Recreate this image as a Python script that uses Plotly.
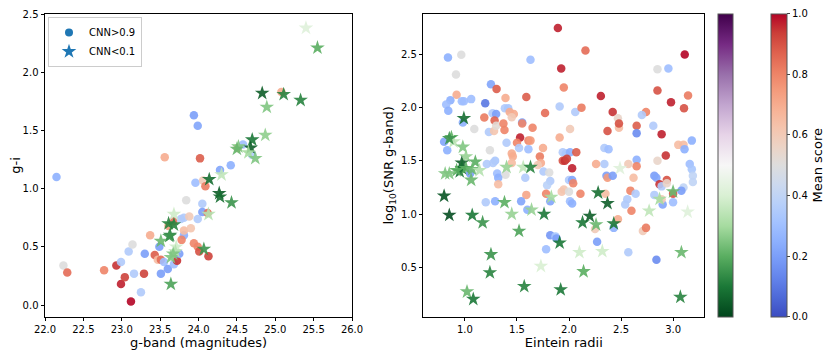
import plotly.graph_objects as go

# ---- left panel: g-band magnitude vs g-i ----
# CNN>0.9 (circles): x, y, mean score
lx_c = [22.15, 22.24, 22.29, 22.77, 22.93, 22.99, 22.99, 23.04, 23.09, 23.12, 23.14, 23.16, 23.25,
        23.29, 23.30, 23.37, 23.43, 23.49, 23.47, 23.51, 23.51, 23.55, 23.56, 23.60, 23.68, 23.67,
        23.61, 23.72, 23.75, 23.77, 23.81, 23.78, 23.81, 23.81, 23.84, 23.88, 23.90, 23.94, 23.94,
        23.96, 23.99, 23.99, 23.99, 24.01, 24.02, 24.05, 24.05, 24.06, 24.09, 24.13, 24.28, 24.42,
        24.51, 24.58, 24.70, 25.08, 24.12]
ly_c = [1.10, 0.34, 0.28, 0.30, 0.34, 0.18, 0.37, 0.24, 0.46, 0.03, 0.52, 0.27, 0.11,
        0.27, 0.44, 0.60, 0.43, 0.50, 0.39, 0.27, 0.39, 0.37, 1.27, 0.31, 0.35, 0.72,
        0.68, 0.38, 0.44, 0.74, 0.60, 0.56, 0.64, 0.75, 0.90, 0.76, 0.66, 1.63, 0.53,
        1.05, 1.54, 0.50, 0.74, 0.46, 1.26, 0.87, 0.80, 1.07, 1.02, 0.42, 1.16, 1.20,
        1.35, 1.38, 1.29, 1.83, 0.79]
ls_c = [0.25, 0.50, 0.85, 0.80, 0.95, 0.97, 0.35, 0.93, 0.35, 1.00, 0.50, 0.35, 0.35,
        0.93, 0.20, 0.70, 0.88, 0.20, 0.65, 0.20, 0.85, 0.30, 0.70, 0.20, 0.30, 0.85,
        0.75, 0.95, 0.20, 0.35, 0.25, 0.80, 0.65, 0.35, 0.50, 0.60, 0.62, 0.20, 0.80,
        0.30, 0.22, 0.80, 0.35, 0.90, 0.88, 0.35, 0.20, 0.60, 0.82, 0.93, 0.22, 0.25,
        0.70, 0.30, 0.35, 0.70, 0.85]
# CNN<0.1 (stars)
lx_s = [25.40, 25.55, 24.83, 25.11, 25.33, 24.89, 24.87, 24.70, 24.68, 24.52, 24.50, 24.65, 24.74,
        24.30, 24.14, 24.27, 24.28, 24.43, 24.13, 23.68, 23.61, 23.68, 23.63, 23.51, 23.71, 23.70,
        23.67, 23.64, 24.07, 23.64, 23.62]
ly_s = [2.38, 2.21, 1.82, 1.81, 1.76, 1.70, 1.46, 1.42, 1.35, 1.36, 1.34, 1.31, 1.26,
        1.12, 1.08, 0.96, 0.93, 0.88, 0.78, 0.78, 0.70, 0.69, 0.60, 0.55, 0.50, 0.46,
        0.44, 0.41, 0.48, 0.18, 0.59]
ls_s = [0.42, 0.20, 0.05, 0.12, 0.12, 0.25, 0.27, 0.10, 0.05, 0.25, 0.22, 0.30, 0.25,
        0.35, 0.08, 0.05, 0.08, 0.15, 0.33, 0.38, 0.12, 0.12, 0.12, 0.22, 0.38, 0.33,
        0.25, 0.25, 0.15, 0.18, 0.15]

# ---- right panel: Einstein radius vs log10(SNR) ----
rx_c = [1.893, 2.158, 0.837, 0.965, 1.630, 3.112, 0.914, 1.925, 2.85, 2.955, 1.25, 1.304, 1.95, 2.306,
        2.85, 3.144, 0.92, 0.86, 0.82, 0.84, 0.97, 0.99, 1.06, 1.195, 1.39, 1.59, 1.91, 2.06, 2.12,
        2.42, 2.74, 2.98, 3.105, 1.384, 1.416, 1.266, 1.30, 1.186, 1.43, 1.47, 1.45, 1.77, 1.285,
        0.98, 1.09, 1.23, 1.28, 1.30, 1.37, 1.38, 1.55, 1.55, 1.65, 1.91, 2.01, 2.37, 2.47, 2.48,
        2.48, 2.65, 2.65, 2.70, 2.81, 2.89, 3.18, 1.53, 0.80, 1.40, 1.50, 1.61, 1.63, 1.24, 1.52,
        1.75, 0.83, 1.45, 1.46, 1.94, 1.97, 2.01, 2.07, 1.94, 1.96, 1.98, 2.03, 2.34, 2.38, 3.05,
        3.10, 3.11, 2.93, 1.72, 1.73, 1.70, 1.45, 1.29, 1.27, 1.21, 2.34, 2.26, 2.57, 2.65, 2.65,
        2.85, 3.16, 3.18, 3.19, 3.19, 3.10, 3.08, 1.755, 1.81, 1.82, 1.79, 1.31, 1.39, 1.32, 1.32,
        1.05, 1.58, 1.61, 2.00, 2.03, 2.04, 2.36, 2.37, 2.42, 2.62, 2.82, 2.84, 2.87, 2.94, 2.89,
        2.94, 3.00, 1.93, 1.95, 2.00, 2.11, 1.78, 1.59, 2.59, 2.64, 2.35, 2.82, 2.56, 2.54, 1.20,
        1.29, 1.54, 1.82, 2.01, 2.03, 2.90, 3.00, 2.89, 1.60, 2.60, 2.47, 2.25, 2.71, 2.74, 1.82,
        1.87, 1.88, 2.27, 1.78, 2.57, 2.84, 2.43]
ry_c = [2.748, 2.537, 2.472, 2.497, 2.450, 2.50, 2.311, 2.367, 2.36, 2.367, 2.22, 2.175, 2.19, 2.109,
        2.16, 2.115, 2.12, 2.07, 2.03, 1.97, 2.06, 2.06, 2.08, 2.041, 2.09, 2.10, 2.01, 1.96, 2.00,
        1.96, 1.96, 2.05, 1.995, 1.995, 1.995, 1.948, 1.94, 1.908, 1.96, 1.94, 1.91, 1.95, 1.88,
        1.86, 1.80, 1.77, 1.78, 1.83, 1.85, 1.79, 1.86, 1.85, 1.81, 1.72, 1.80, 1.78, 1.90, 1.81,
        1.85, 1.83, 1.76, 1.93, 1.83, 1.75, 1.69, 1.72, 1.68, 1.67, 1.67, 1.69, 1.69, 1.60, 1.62,
        1.62, 1.60, 1.57, 1.54, 1.58, 1.57, 1.58, 1.58, 1.50, 1.50, 1.52, 1.43, 1.62, 1.61, 1.65,
        1.65, 1.61, 1.55, 1.54, 1.48, 1.46, 1.48, 1.50, 1.48, 1.47, 1.47, 1.47, 1.47, 1.51, 1.45,
        1.50, 1.47, 1.42, 1.36, 1.30, 1.25, 1.22, 1.40, 1.39, 1.31, 1.27, 1.38, 1.37, 1.34, 1.28,
        1.38, 1.34, 1.61, 1.32, 1.32, 1.29, 1.36, 1.34, 1.36, 1.34, 1.36, 1.34, 1.28, 1.32, 1.26,
        1.29, 1.19, 1.21, 1.23, 1.21, 1.19, 1.19, 1.18, 1.22, 1.19, 1.19, 1.18, 1.14, 1.09, 1.11,
        1.12, 1.12, 1.12, 1.12, 1.10, 1.09, 1.11, 1.14, 1.04, 1.03, 0.95, 0.86, 0.84, 0.87, 0.80,
        0.79, 0.77, 0.74, 0.67, 0.64, 0.57, 0.87]
rs_c = [0.97, 0.85, 0.25, 0.50, 0.30, 1.00, 0.50, 0.97, 0.50, 0.30, 0.22, 0.88, 0.80, 0.97,
        0.90, 0.82, 0.70, 0.25, 0.30, 0.25, 0.30, 0.30, 0.30, 0.10, 0.70, 0.88, 0.35, 0.35, 0.82,
        0.95, 0.80, 0.97, 0.90, 0.35, 0.33, 0.35, 0.20, 0.82, 0.70, 0.70, 0.60, 0.85, 0.87,
        0.25, 0.50, 0.35, 0.62, 0.52, 0.80, 0.80, 0.20, 0.80, 0.80, 0.70, 0.60, 0.90, 0.55, 0.65,
        0.90, 0.88, 0.15, 0.35, 0.35, 0.97, 0.25, 0.97, 0.22, 0.35, 0.80, 0.80, 0.75, 0.50, 0.35,
        0.70, 0.25, 0.70, 0.70, 0.35, 0.33, 0.25, 0.88, 0.90, 0.95, 0.93, 0.97, 0.35, 0.30, 0.65,
        0.65, 0.25, 0.95, 0.82, 0.70, 0.60, 0.65, 0.33, 0.35, 0.35, 0.35, 0.70, 0.60, 0.25, 0.80,
        0.55, 0.30, 0.33, 0.40, 0.40, 0.40, 0.20, 0.35, 0.50, 0.35, 0.38, 0.30, 0.50, 0.25, 0.65,
        0.20, 0.35, 0.30, 0.35, 0.22, 0.80, 0.20, 0.75, 0.20, 0.65, 0.20, 0.22, 0.95, 0.90, 0.35,
        0.55, 0.90, 0.62, 0.62, 0.50, 0.80, 0.80, 0.72, 0.80, 0.35, 0.65, 0.35, 0.35, 0.35, 0.35,
        0.25, 0.22, 0.22, 0.30, 0.25, 0.22, 0.30, 0.60, 0.25, 0.80, 0.70, 0.60, 0.60, 0.82, 0.18,
        0.33, 0.20, 0.20, 0.30, 0.35, 0.15, 0.25]
rx_s = [0.99, 0.87, 0.89, 0.98, 0.85, 1.01, 1.10, 0.97, 0.97, 0.95, 1.01, 0.92, 0.85, 0.81,
        1.07, 1.14, 1.06, 1.40, 1.56, 1.63, 1.83, 0.80, 0.85, 1.07, 1.17, 1.38, 1.45, 1.64,
        1.76, 1.52, 1.91, 1.25, 1.24, 1.02, 1.08, 1.57, 1.92, 1.73, 2.10, 2.14, 2.32, 2.13,
        2.20, 2.28, 2.26, 2.37, 2.43, 2.77, 2.87, 3.00, 3.08, 3.07, 3.14, 2.49]
ry_s = [1.90, 1.72, 1.68, 1.63, 1.71, 1.54, 1.49, 1.48, 1.43, 1.40, 1.43, 1.41, 1.38, 1.38,
        1.42, 1.41, 1.32, 1.44, 1.44, 1.44, 1.16, 1.17, 0.99, 0.99, 0.92, 1.11, 1.00, 1.04,
        1.00, 0.84, 0.73, 0.62, 0.45, 0.27, 0.20, 0.32, 0.29, 0.51, 0.64, 0.46, 0.65, 0.92,
        0.98, 1.20, 0.90, 1.10, 0.91, 1.03, 1.14, 1.21, 0.64, 0.22, 1.02, 1.43]
rs_s = [0.08, 0.20, 0.35, 0.25, 0.15, 0.28, 0.20, 0.05, 0.08, 0.10, 0.20, 0.20, 0.25, 0.25,
        0.22, 0.33, 0.22, 0.28, 0.35, 0.12, 0.30, 0.03, 0.02, 0.10, 0.15, 0.20, 0.28, 0.28,
        0.10, 0.18, 0.10, 0.15, 0.12, 0.22, 0.10, 0.12, 0.10, 0.40, 0.38, 0.20, 0.38, 0.10,
        0.05, 0.08, 0.22, 0.05, 0.10, 0.35, 0.30, 0.22, 0.22, 0.12, 0.42, 0.42]

# matplotlib coolwarm, sampled
coolwarm = [[0.0, 'rgb(59,76,192)'], [0.0625, 'rgb(77,104,215)'], [0.125, 'rgb(98,130,234)'],
            [0.1875, 'rgb(119,154,247)'], [0.25, 'rgb(141,176,254)'], [0.3125, 'rgb(163,194,255)'],
            [0.375, 'rgb(184,208,249)'], [0.4375, 'rgb(204,217,238)'], [0.5, 'rgb(221,221,221)'],
            [0.5625, 'rgb(236,211,197)'], [0.625, 'rgb(245,196,173)'], [0.6875, 'rgb(247,177,148)'],
            [0.75, 'rgb(244,154,123)'], [0.8125, 'rgb(236,127,99)'], [0.875, 'rgb(222,96,77)'],
            [0.9375, 'rgb(203,62,56)'], [1.0, 'rgb(180,4,38)']]

font = dict(family='DejaVu Sans', size=10, color='black')

# page body adds an 8px margin, so the figure is 8px smaller than the window
W, H = 823, 348

fig = go.Figure()

for xs, ys, ss, xa, ya in [(lx_c, ly_c, ls_c, 'x', 'y'), (rx_c, ry_c, rs_c, 'x2', 'y2')]:
    fig.add_trace(go.Scatter(x=xs, y=ys, mode='markers', xaxis=xa, yaxis=ya, showlegend=False,
                             marker=dict(symbol='circle', size=8.5, color=ss, coloraxis='coloraxis',
                                         opacity=0.9, line_width=0)))
for xs, ys, ss, xa, ya in [(lx_s, ly_s, ls_s, 'x', 'y'), (rx_s, ry_s, rs_s, 'x2', 'y2')]:
    fig.add_trace(go.Scatter(x=xs, y=ys, mode='markers', xaxis=xa, yaxis=ya, showlegend=False,
                             marker=dict(symbol='star', size=11, color=ss, coloraxis='coloraxis2',
                                         opacity=0.9, line_width=0)))

# legend entries (matplotlib draws them in default blue)
fig.add_trace(go.Scatter(x=[None], y=[None], mode='markers', name='CNN>0.9',
                         marker=dict(symbol='circle', size=8, color='#1f77b4')))
fig.add_trace(go.Scatter(x=[None], y=[None], mode='markers', name='CNN<0.1',
                         marker=dict(symbol='star', size=11, color='#1f77b4')))

ydom = [0.1129, (H - 6) / H]
axis_common = dict(showline=True, linecolor='black', linewidth=1, mirror=True, ticks='outside',
                   ticklen=3.5, tickcolor='black', showgrid=False, zeroline=False, automargin=False,
                   ticklabeloverflow='allow',
                   tickfont=font, title_font=dict(family='DejaVu Sans', size=13, color='black'))

fig.update_layout(
    width=W, height=H, margin=dict(l=0, r=0, t=0, b=0, autoexpand=False),
    plot_bgcolor='white', paper_bgcolor='white', font=font,
    xaxis=dict(domain=[37 / W, 344 / W], range=[22.0, 26.0], dtick=0.5, tickformat='.1f',
               title=dict(text='g-band (magnitudes)', standoff=0), anchor='y', **axis_common),
    yaxis=dict(domain=ydom, range=[-0.1, 2.5], dtick=0.5, tickformat='.1f',
               title=dict(text='g-i', standoff=4), anchor='x', **axis_common),
    xaxis2=dict(domain=[415.3 / W, 696.3 / W], range=[0.6, 3.3], dtick=0.5, tickformat='.1f',
                title=dict(text='Eintein radii', standoff=0), anchor='y2', **axis_common),
    yaxis2=dict(domain=ydom, range=[0.035, 2.88], tick0=0.5, dtick=0.5, tickformat='.1f',
                title=dict(text='log<sub>10</sub>(SNR g-band)', standoff=4), anchor='x2', **axis_common),
    coloraxis=dict(colorscale=coolwarm, cmin=0, cmax=1,
                   colorbar=dict(x=762.7 / W, xanchor='left', y=ydom[0], yanchor='bottom',
                                 len=ydom[1] - ydom[0], lenmode='fraction', thickness=16,
                                 xpad=0, ypad=0, outlinewidth=1, outlinecolor='#555',
                                 tickvals=[0, 0.2, 0.4, 0.6, 0.8, 1.0], tickformat='.1f',
                                 ticks='outside', ticklen=3, tickfont=font,
                                 ticklabeloverflow='allow',
                                 title=dict(text='Mean score', side='right',
                                            font=dict(family='DejaVu Sans', size=13)))),
    coloraxis2=dict(colorscale='PRGn_r', cmin=0, cmax=1,
                    colorbar=dict(x=710.3 / W, xanchor='left', y=ydom[0], yanchor='bottom',
                                  len=ydom[1] - ydom[0], lenmode='fraction', thickness=15,
                                  xpad=0, ypad=0, outlinewidth=1, outlinecolor='#555',
                                  showticklabels=False, ticks='')),
    legend=dict(x=40 / W, y=(H - 9) / H, xanchor='left', yanchor='top', bgcolor='white',
                bordercolor='#cccccc', borderwidth=1, font=dict(family='DejaVu Sans', size=10),
                itemwidth=30, tracegroupgap=0),
)

fig.write_html("out.html")
